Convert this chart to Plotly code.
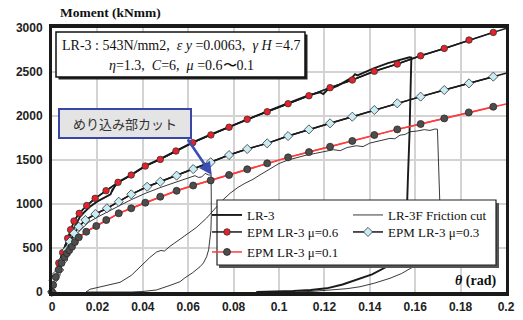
import plotly.graph_objects as go

# ---------------- data ----------------
x_ticks = [0, 0.02, 0.04, 0.06, 0.08, 0.1, 0.12, 0.14, 0.16, 0.18, 0.2]
x_tick_labels = ["0", "0.02", "0.04", "0.06", "0.08", "0.1", "0.12", "0.14", "0.16", "0.18", "0.2"]
y_ticks = [0, 500, 1000, 1500, 2000, 2500, 3000]
y_tick_labels = ["0", "500", "1000", "1500", "2000", "2500", "3000"]

# EPM mu=0.6 (markers) and its line end
epm06_theta = [0, 0.0013, 0.0030, 0.0047, 0.0069, 0.0082, 0.0097, 0.0120, 0.0153, 0.0190,
               0.0238, 0.0291, 0.0349, 0.0411, 0.0477, 0.0546, 0.0620, 0.0700, 0.0780, 0.0860,
               0.0948, 0.1040, 0.1132, 0.1225, 0.1323, 0.1420, 0.1521, 0.1624, 0.1728, 0.1837, 0.1944]
epm06_moment = [0, 174, 330, 447, 610, 708, 806, 894, 982, 1064,
                1151, 1246, 1329, 1431, 1507, 1602, 1697, 1785, 1872, 1962,
                2048, 2140, 2230, 2322, 2409, 2508, 2590, 2684, 2768, 2863, 2950]
epm06_end_theta = [0.2]
epm06_end_moment = [2995]

# EPM mu=0.3
epm03_theta = [0, 0.0006, 0.0018, 0.0032, 0.0050, 0.0065, 0.0079, 0.0097, 0.0118, 0.0147,
               0.0191, 0.0242, 0.0294, 0.0349, 0.0419, 0.0477, 0.0549, 0.0622, 0.0699, 0.0780,
               0.0860, 0.0948, 0.1040, 0.1132, 0.1225, 0.1323, 0.1420, 0.1521, 0.1624, 0.1728,
               0.1837, 0.1944]
epm03_moment = [0, 136, 195, 250, 364, 477, 572, 667, 742, 818,
                886, 951, 1026, 1110, 1196, 1253, 1322, 1397, 1474, 1556,
                1625, 1689, 1772, 1848, 1917, 1992, 2068, 2144, 2220, 2295,
                2371, 2447]
epm03_end_theta = [0.2]
epm03_end_moment = [2485]

# EPM mu=0.1
epm01_theta = [0, 0.0005, 0.0017, 0.0030, 0.0042, 0.0055, 0.0066, 0.0076, 0.0088, 0.0101,
               0.0118, 0.0151, 0.0195, 0.0239, 0.0294, 0.0349, 0.0411, 0.0477, 0.0549, 0.0622,
               0.0699, 0.0780, 0.0860, 0.0948, 0.1040, 0.1132, 0.1225, 0.1323, 0.1420, 0.1521,
               0.1624, 0.1728, 0.1836, 0.1944]
epm01_moment = [0, 80, 170, 255, 330, 395, 440, 475, 515, 568,
                621, 685, 750, 818, 894, 951, 1015, 1083, 1150, 1210,
                1268, 1330, 1395, 1462, 1530, 1590, 1651, 1716, 1784, 1848,
                1909, 1973, 2041, 2105]
epm01_end_theta = [0.2]
epm01_end_moment = [2136]

# LR-3 experiment (thick line)
lr3_theta = [0, 0.0015, 0.0030, 0.0045, 0.0060, 0.0075, 0.0090, 0.0105, 0.0123, 0.0145,
             0.0167, 0.0200, 0.0240, 0.0258, 0.0268, 0.0264, 0.0275, 0.0291, 0.0349, 0.0411,
             0.0477, 0.0546, 0.0620, 0.0700, 0.0780, 0.0860, 0.0948, 0.1040, 0.1132, 0.1180,
             0.1195, 0.1210, 0.1260, 0.1323, 0.1335, 0.1345, 0.1380, 0.1420, 0.1480, 0.1521,
             0.1560, 0.1575, 0.1583, 0.1580, 0.1575, 0.1568, 0.1564, 0.1556, 0.1540, 0.1510,
             0.1474, 0.1410, 0.1342, 0.1280, 0.1210, 0.1140, 0.1063, 0.0980, 0.0900]
lr3_moment = [0, 150, 290, 420, 530, 620, 700, 765, 855, 915,
              969, 1030, 1083, 1110, 1175, 1140, 1195, 1246, 1333, 1434,
              1512, 1606, 1700, 1790, 1876, 1966, 2053, 2145, 2236, 2270,
              2250, 2290, 2345, 2440, 2475, 2462, 2505, 2545, 2600, 2632,
              2658, 2668, 2665, 2300, 1800, 1300, 969, 720, 520, 390,
              287, 200, 136, 85, 42, 22, 11, 3, 0]

# LR-3F friction cut (thin line)
lr3f_theta = [0, 0.0015, 0.0030, 0.0045, 0.0060, 0.0080, 0.0100, 0.0130, 0.0160, 0.0200,
              0.0250, 0.0300, 0.0350, 0.0410, 0.0480, 0.0550, 0.0600, 0.0630, 0.0645, 0.0660,
              0.0675, 0.0690, 0.0701, 0.0703, 0.0702, 0.0700, 0.0696, 0.0690, 0.0681, 0.0667,
              0.0652, 0.0620, 0.0585, 0.0564, 0.0520, 0.0460, 0.0400, 0.0350, 0.0250, 0.0150,
              0.0167, 0.0220, 0.0300, 0.0350, 0.0388, 0.0430, 0.0461, 0.0480, 0.0495, 0.0520,
              0.0564, 0.0600, 0.0637, 0.0681, 0.0711, 0.0750, 0.0784, 0.0820, 0.0850, 0.0885,
              0.0916, 0.0960, 0.1000, 0.1040, 0.1080, 0.1120, 0.1160, 0.1200, 0.1240, 0.1270,
              0.1300, 0.1340, 0.1370, 0.1400, 0.1445, 0.1470, 0.1489, 0.1510, 0.1533, 0.1555,
              0.1577, 0.1610, 0.1640, 0.1665, 0.1687, 0.1698, 0.1702, 0.1706, 0.1709, 0.1700,
              0.1680, 0.1650, 0.1620, 0.1592, 0.1540, 0.1489, 0.1420, 0.1357, 0.1300, 0.1239,
              0.1150, 0.1080]
lr3f_moment = [0, 120, 240, 350, 450, 560, 640, 720, 790, 850,
               920, 985, 1050, 1120, 1190, 1255, 1300, 1322, 1302, 1308,
               1348, 1330, 1329, 1100, 880, 700, 600, 480, 400, 330,
               287, 220, 160, 117, 75, 23, 6, 0, 0, 0,
               31, 60, 110, 190, 287, 390, 455, 472, 465, 520,
               600, 670, 735, 840, 930, 1040, 1121, 1190, 1235, 1280,
               1330, 1400, 1460, 1500, 1530, 1555, 1575, 1592, 1617, 1606,
               1642, 1662, 1652, 1692, 1719, 1735, 1746, 1741, 1782, 1790,
               1821, 1830, 1845, 1836, 1852, 1850, 1500, 1200, 969, 760,
               560, 430, 350, 287, 210, 156, 100, 60, 38, 23,
               8, 0]

# ---------------- helpers for positioning (pixel -> paper) ----------------
W, H = 523, 320
ML, MR, MT, MB = 52, 17, 28, 28
PW, PH = W - ML - MR, H - MT - MB


def px(x):
    return (x - ML) / PW


def py(y):
    return (H - MB - y) / PH


fig = go.Figure()

# experiment traces
fig.add_trace(go.Scatter(x=lr3_theta, y=lr3_moment, mode="lines", name="LR-3",
                         line=dict(color="#1a1a1a", width=1.9), legend="legend"))
fig.add_trace(go.Scatter(x=lr3f_theta, y=lr3f_moment, mode="lines", name="LR-3F Friction cut",
                         line=dict(color="#222222", width=0.9), legend="legend2"))

# model lines (full, including the end at the frame), no legend
fig.add_trace(go.Scatter(x=epm06_theta + epm06_end_theta, y=epm06_moment + epm06_end_moment,
                         mode="lines", line=dict(color="#1a1a1a", width=1.5),
                         showlegend=False, hoverinfo="skip"))
fig.add_trace(go.Scatter(x=epm03_theta + epm03_end_theta, y=epm03_moment + epm03_end_moment,
                         mode="lines", line=dict(color="#1a1a1a", width=1.5),
                         showlegend=False, hoverinfo="skip"))
fig.add_trace(go.Scatter(x=epm01_theta + epm01_end_theta, y=epm01_moment + epm01_end_moment,
                         mode="lines", line=dict(color="#ff3b3b", width=1.5),
                         showlegend=False, hoverinfo="skip"))

# model marker traces (with legend)
fig.add_trace(go.Scatter(x=epm06_theta, y=epm06_moment, mode="lines+markers", name="EPM LR-3 μ=0.6",
                         line=dict(color="#1a1a1a", width=1.5),
                         marker=dict(symbol="circle", size=6.5, color="#e8202a",
                                     line=dict(color="#333333", width=0.8)),
                         cliponaxis=False, legend="legend3"))
fig.add_trace(go.Scatter(x=epm03_theta, y=epm03_moment, mode="lines+markers", name="EPM LR-3 μ=0.3",
                         line=dict(color="#1a1a1a", width=1.5),
                         marker=dict(symbol="diamond", size=7, color="#c8ecf4",
                                     line=dict(color="#333333", width=0.8)),
                         cliponaxis=False, legend="legend4"))
fig.add_trace(go.Scatter(x=epm01_theta, y=epm01_moment, mode="lines+markers", name="EPM LR-3 μ=0.1",
                         line=dict(color="#ff3b3b", width=1.5),
                         marker=dict(symbol="circle", size=7, color="#4d4d4d",
                                     line=dict(color="#2a2a2a", width=0.8)),
                         cliponaxis=False, legend="legend5"))

shapes = []
# legend box with shadow
shapes.append(dict(type="rect", xref="paper", yref="paper", x0=px(219), x1=px(499), y0=py(268), y1=py(203),
                   fillcolor="#555555", line=dict(width=0), layer="above"))
shapes.append(dict(type="rect", xref="paper", yref="paper", x0=px(217), x1=px(496), y0=py(265), y1=py(200),
                   fillcolor="white", line=dict(color="#222222", width=1.2), layer="above"))
# parameter box with shadow
shapes.append(dict(type="rect", xref="paper", yref="paper", x0=px(58.5), x1=px(307.5), y0=py(79.5), y1=py(34.5),
                   fillcolor="#222222", line=dict(width=0), layer="above"))
shapes.append(dict(type="rect", xref="paper", yref="paper", x0=px(56), x1=px(305), y0=py(77), y1=py(32),
                   fillcolor="white", line=dict(color="#111111", width=1.5), layer="above"))
# callout box
shapes.append(dict(type="rect", xref="paper", yref="paper", x0=px(59), x1=px(191), y0=py(138), y1=py(109),
                   fillcolor="#e4e4e4", line=dict(color="#3a46a6", width=2), layer="above"))

serif = "Liberation Serif, Times New Roman, serif"
annotations = [
    dict(xref="paper", yref="paper", x=px(181), y=py(45.5), xanchor="center", yanchor="middle",
         text="LR-3 : 543N/mm2,  <i>ε y</i> =0.0063,  <i>γ H</i> =4.7", showarrow=False,
         font=dict(family=serif, size=14, color="#111111")),
    dict(xref="paper", yref="paper", x=px(181), y=py(65.5), xanchor="center", yanchor="middle",
         text="<i>η</i>=1.3,  <i>C</i>=6,  <i>μ</i> =0.6〜0.1", showarrow=False,
         font=dict(family=serif, size=14, color="#111111")),
    dict(xref="paper", yref="paper", x=px(125), y=py(123.5), xanchor="center", yanchor="middle",
         text="めり込み部カット", showarrow=False,
         font=dict(family="Noto Sans CJK JP", size=13, color="#333333")),
    dict(x=0.0704, y=1329, xref="x", yref="y", text="", showarrow=True,
         ax=-25, ay=-37, arrowcolor="#3a4fb5", arrowwidth=2.6, arrowhead=2, arrowsize=1.0,
         standoff=0, startstandoff=0),
    dict(xref="paper", yref="paper", x=px(58), y=py(12.5), xanchor="left", yanchor="middle",
         text="<b>Moment (kNmm)</b>", showarrow=False,
         font=dict(family=serif, size=13.5, color="#111111")),
    dict(xref="paper", yref="paper", x=px(498), y=py(280.5), xanchor="right", yanchor="middle",
         text="<b><i>θ</i> (rad)</b>", showarrow=False,
         font=dict(family=serif, size=14, color="#111111")),
]

tickfont = dict(family="Liberation Sans, Arial, sans-serif", size=12, color="#222222", weight="bold")
legfont = dict(family=serif, size=13, color="#111111")


def leg(xpix, ytop):
    return dict(x=px(xpix), y=py(ytop), xanchor="left", yanchor="top", bgcolor="rgba(0,0,0,0)",
                font=legfont, itemwidth=30, borderwidth=0)


fig.update_layout(
    template="none",
    width=W, height=H,
    margin=dict(l=ML, r=MR, t=MT, b=MB, pad=0, autoexpand=False),
    paper_bgcolor="white", plot_bgcolor="white",
    shapes=shapes, annotations=annotations,
    xaxis=dict(range=[0, 0.2], tickvals=x_ticks, ticktext=x_tick_labels, showgrid=True,
               gridcolor="#d3d3d3", gridwidth=1.5, zeroline=False, showline=True, linecolor="#1a1a1a",
               linewidth=3.5, mirror=True, ticks="", tickfont=tickfont, ticklabelstandoff=1,
               automargin=False),
    yaxis=dict(range=[0, 3000], tickvals=y_ticks, ticktext=y_tick_labels, showgrid=True,
               gridcolor="#d3d3d3", gridwidth=1.5, zeroline=False, showline=True, linecolor="#1a1a1a",
               linewidth=3, mirror=True, ticks="", tickfont=tickfont, ticklabelstandoff=4,
               automargin=False),
    legend=leg(207, 200),
    legend2=leg(348, 200),
    legend3=leg(207, 217),
    legend4=leg(348, 217),
    legend5=leg(207, 237),
    showlegend=True,
)

fig.write_html("out.html", config={"displayModeBar": False},
               post_script="document.body.style.margin='0px';document.body.style.overflow='hidden';")
